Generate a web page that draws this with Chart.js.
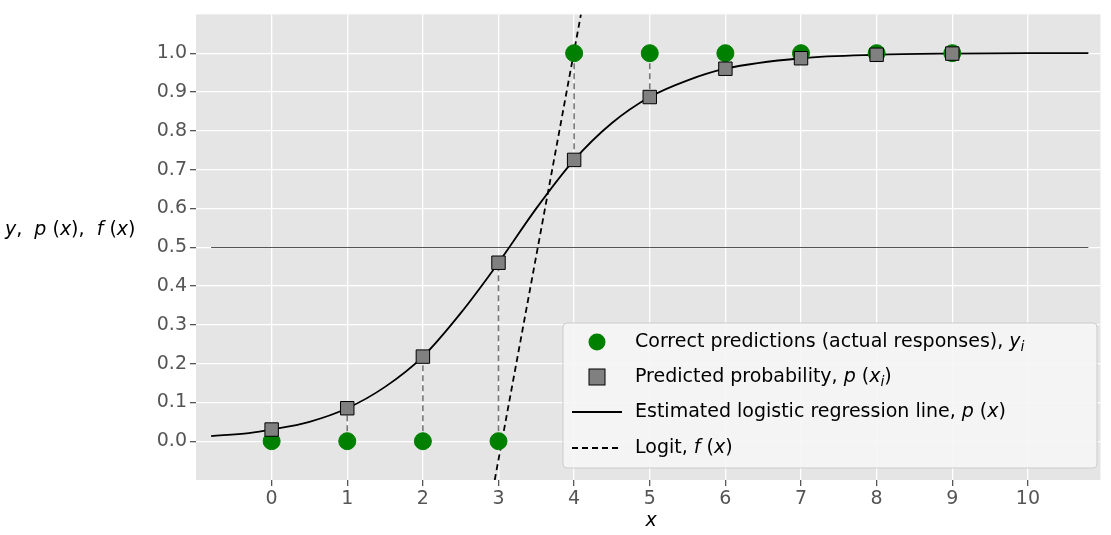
<!DOCTYPE html>
<html><head><meta charset="utf-8">
<script src="https://cdn.jsdelivr.net/npm/chart.js@4"></script>
<style>html,body{margin:0;padding:0;background:#fff}#w{width:1111px;height:535px}</style>
</head><body><div id="w"><canvas id="c"></canvas></div>
<script>
const xs = [0,1,2,3,4,5,6,7,8,9];
const actual = [0,0,0,0,1,1,1,1,1,1];
const predicted = [0.03,0.085,0.218,0.46,0.725,0.887,0.96,0.987,0.996,0.999];
const curveX = [-0.8,-0.3,0,0.5,1,1.5,2,2.5,3,3.5,4,4.5,5,5.5,6,7,8,9,10,10.8];
const curveY = [0.013,0.021,0.03,0.05,0.085,0.14,0.218,0.33,0.46,0.6,0.725,0.82,0.887,0.93,0.96,0.987,0.996,0.999,1.0,1.0];
const logitX = [2.95,4.09];
const logitY = [-0.1,1.1];
const xTicks = [0,1,2,3,4,5,6,7,8,9,10];
const yTicks = [0,.1,.2,.3,.4,.5,.6,.7,.8,.9,1];
const legendLabels = ['Correct predictions (actual responses), ','Predicted probability, ','Estimated logistic regression line, ','Logit, '];

const pts = (a,b)=>a.map((v,i)=>({x:v,y:b[i]}));
const F = 'DejaVu Sans';

const bgPlugin = {id:'bg',beforeDraw(ch){const a=ch.chartArea,c=ch.ctx;c.save();c.fillStyle='#e5e5e5';c.fillRect(a.left,a.top,a.right-a.left,a.bottom-a.top);c.restore();}};
const stems = {id:'stems',beforeDatasetsDraw(ch){const c=ch.ctx,sx=ch.scales.x,sy=ch.scales.y;c.save();
  c.strokeStyle='#555';c.lineWidth=1;c.beginPath();c.moveTo(sx.getPixelForValue(-0.8),Math.round(sy.getPixelForValue(0.5))+0.5);c.lineTo(sx.getPixelForValue(10.8),Math.round(sy.getPixelForValue(0.5))+0.5);c.stroke();
  c.strokeStyle='#777';c.lineWidth=1.6;c.setLineDash([6,4]);
  xs.forEach((x,i)=>{c.beginPath();c.moveTo(sx.getPixelForValue(x),sy.getPixelForValue(actual[i]));c.lineTo(sx.getPixelForValue(x),sy.getPixelForValue(predicted[i]));c.stroke();});
  c.restore();}};
const extra = {id:'extra',afterDraw(ch){const c=ch.ctx;c.save();
  c.fillStyle='#000';c.textBaseline='middle';
  const parts=[['y',1],[',  ',0],['p',1],[' (',0],['x',1],['),  ',0],['f',1],[' (',0],['x',1],[')',0]];
  let x=5;parts.forEach(([t,it])=>{c.font=(it?'italic ':'')+'19px '+F;c.fillText(t,x,230);x+=c.measureText(t).width;});
  const L=563,T=323,W=534,H=145;
  c.fillStyle='rgba(245,245,245,0.92)';c.strokeStyle='#ccc';c.lineWidth=1;
  c.beginPath();c.roundRect(L,T,W,H,4);c.fill();c.stroke();
  const rows=[342,377,412,448];
  c.fillStyle='green';c.beginPath();c.arc(597,rows[0],8.5,0,Math.PI*2);c.fill();
  c.fillStyle='#808080';c.strokeStyle='#000';c.fillRect(589,rows[1]-8,16,16);c.strokeRect(589,rows[1]-8,16,16);
  c.lineWidth=2;c.beginPath();c.moveTo(572,rows[2]);c.lineTo(622,rows[2]);c.stroke();
  c.setLineDash([6,4]);c.beginPath();c.moveTo(572,rows[3]);c.lineTo(622,rows[3]);c.stroke();c.setLineDash([]);
  c.fillStyle='#000';
  const seg=[[[legendLabels[0],0],['y',1],['i',1,1]],[[legendLabels[1],0],['p',1],[' (',0],['x',1],['i',1,1],[')',0]],[[legendLabels[2],0],['p',1],[' (',0],['x',1],[')',0]],[[legendLabels[3],0],['f',1],[' (',0],['x',1],[')',0]]];
  seg.forEach((s,r)=>{let xx=635;s.forEach(([t,it,sub])=>{c.font=(it?'italic ':'')+(sub?'14px ':'19px ')+F;c.fillText(t,xx,rows[r]+(sub?5:0));xx+=c.measureText(t).width;});});
  c.font='italic 19px '+F;c.textAlign='center';c.fillText('x',651,521);
  c.restore();}};

new Chart(document.getElementById('c'),{
  type:'scatter',
  data:{datasets:[
    {data:pts(curveX,curveY),showLine:true,borderColor:'#000',borderWidth:1.8,pointRadius:0,cubicInterpolationMode:'monotone',order:4},
    {data:pts(logitX,logitY),showLine:true,borderColor:'#000',borderWidth:1.8,borderDash:[6,4],pointRadius:0,order:3},
    {data:pts(xs,actual),pointRadius:8.5,pointBackgroundColor:'green',pointBorderColor:'green',order:2},
    {data:pts(xs,predicted),pointStyle:'rect',pointRadius:9.5,pointBackgroundColor:'#808080',pointBorderColor:'#000',pointBorderWidth:1,order:1}
  ]},
  options:{responsive:true,maintainAspectRatio:false,animation:false,
    layout:{padding:{top:-5,right:6,left:0,bottom:0}},
    plugins:{legend:{display:false},tooltip:{enabled:false}},
    scales:{
      x:{type:'linear',min:-1,max:10.96,afterBuildTicks(a){a.ticks=xTicks.map(v=>({value:v}));},
        grid:{color:'#fff',lineWidth:1.3,drawTicks:true,tickLength:6,tickColor:'#555'},border:{display:false},
        ticks:{color:'#555',font:{family:F,size:19},padding:2},afterFit(a){a.height=55;}},
      y:{min:-0.1,max:1.1,afterBuildTicks(a){a.ticks=yTicks.map(v=>({value:v}));},
        grid:{color:'#fff',lineWidth:1.3,tickLength:6,tickColor:'#555'},border:{display:false},
        ticks:{color:'#555',font:{family:F,size:19},callback:v=>v.toFixed(1)},afterFit(a){a.width=196;}}
    }},
  plugins:[bgPlugin,stems,extra]
});
</script></body></html>
